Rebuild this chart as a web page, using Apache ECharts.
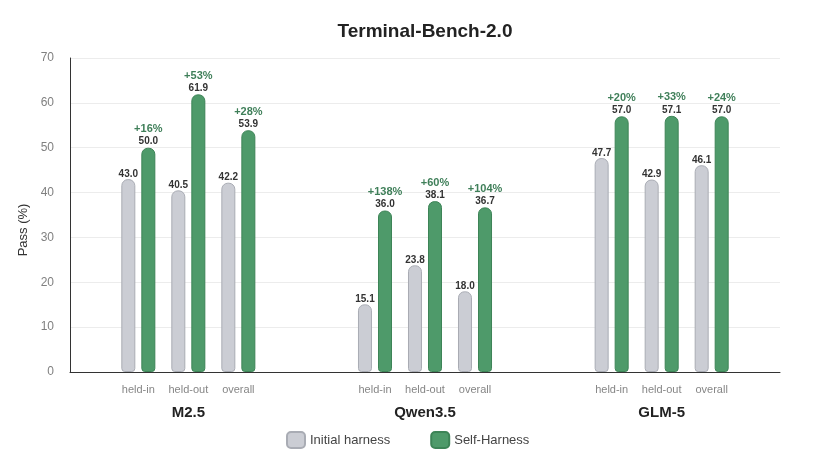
<!DOCTYPE html>
<html>
<head>
<meta charset="utf-8">
<script src="https://cdn.jsdelivr.net/npm/echarts@6/dist/echarts.min.js"></script>
<style>
html,body{margin:0;padding:0;background:#fff;}
#chart{width:816px;height:466px;}
</style>
</head>
<body>
<div id="chart"></div>
<script>
const models = ['M2.5', 'Qwen3.5', 'GLM-5'];
const splits = ['held-in', 'held-out', 'overall'];
const initialHarness = [
  [43.0, 40.5, 42.2],
  [15.1, 23.8, 18.0],
  [47.7, 42.9, 46.1]
];
const selfHarness = [
  [50.0, 61.9, 53.9],
  [36.0, 38.1, 36.7],
  [57.0, 57.1, 57.0]
];
const gains = [
  ['+16%', '+53%', '+28%'],
  ['+138%', '+60%', '+104%'],
  ['+20%', '+33%', '+24%']
];
const yTicks = { min: 0, max: 70, interval: 10 };

// layout: each model occupies one unit on the hidden x value axis; splits are offset inside it
const SUB = 0.2113;
function xPos(g, s) { return g + 0.5 + (s - 1) * SUB; }

const greyData = [], greenData = [], splitLabelData = [];
models.forEach((m, g) => {
  splits.forEach((sp, s) => {
    greyData.push([xPos(g, s), initialHarness[g][s]]);
    greenData.push({ value: [xPos(g, s), selfHarness[g][s]], gain: gains[g][s] });
    splitLabelData.push({ value: [xPos(g, s), 0], name: sp });
  });
});

const FONT = '"Liberation Sans", Arial, sans-serif';
const chart = echarts.init(document.getElementById('chart'));
chart.setOption({
  animation: false,
  textStyle: { fontFamily: FONT },
  title: {
    text: 'Terminal-Bench-2.0',
    left: 425, top: 22, textAlign: 'center', padding: 0,
    textStyle: { fontFamily: FONT, fontSize: 19, fontWeight: 'bold', color: '#222' }
  },
  legend: {
    bottom: 17, left: 286, padding: 0,
    itemWidth: 18, itemHeight: 16, itemGap: 40,
    icon: 'roundRect',
    textStyle: { fontFamily: FONT, fontSize: 13, color: '#444' },
    data: ['Initial harness', 'Self-Harness']
  },
  grid: { left: 70, right: 36, top: 58, bottom: 94 },
  xAxis: [
    { type: 'value', min: 0, max: 3, show: false },
    {
      type: 'category', data: models, position: 'bottom',
      axisLine: { show: true, lineStyle: { color: '#333', width: 1 } },
      axisTick: { show: false },
      splitLine: { show: false },
      axisLabel: { margin: 33, fontFamily: FONT, fontSize: 15, fontWeight: 'bold', color: '#222' }
    }
  ],
  yAxis: {
    type: 'value', min: yTicks.min, max: yTicks.max, interval: yTicks.interval,
    name: 'Pass (%)', nameLocation: 'middle', nameGap: 40,
    nameTextStyle: { fontFamily: FONT, fontSize: 13, color: '#333', padding: [0, 30, 0, 0] },
    axisLine: { show: true, lineStyle: { color: '#333', width: 1 } },
    axisTick: { show: false },
    axisLabel: { margin: 16, fontFamily: FONT, fontSize: 12, color: '#808080' },
    splitLine: { lineStyle: { color: '#ececec' } }
  },
  series: [
    {
      name: 'Initial harness', type: 'bar', xAxisIndex: 0,
      barWidth: 14, barGap: '43%',
      data: greyData,
      itemStyle: { color: '#cbcdd4', borderColor: '#a9acb4', borderWidth: 1, borderRadius: [6, 6, 3, 3] },
      label: {
        show: true, position: 'top', distance: 0,
        fontFamily: FONT, fontSize: 10, fontWeight: 'bold', color: '#333',
        formatter: p => p.value[1].toFixed(1)
      }
    },
    {
      name: 'Self-Harness', type: 'bar', xAxisIndex: 0,
      barWidth: 14, barGap: '43%',
      data: greenData,
      itemStyle: { color: '#4e9a6a', borderColor: '#3d8457', borderWidth: 1, borderRadius: [6, 6, 3, 3] },
      label: {
        show: true, position: 'top', distance: 0,
        formatter: p => '{g|' + p.data.gain + '}\n{v|' + p.value[1].toFixed(1) + '}',
        rich: {
          g: { fontFamily: FONT, fontSize: 11, fontWeight: 'bold', color: '#3f7f59', lineHeight: 13, align: 'center' },
          v: { fontFamily: FONT, fontSize: 10, fontWeight: 'bold', color: '#333', lineHeight: 12, align: 'center' }
        }
      }
    },
    {
      type: 'scatter', xAxisIndex: 0, silent: true, clip: false,
      symbolSize: 0, data: splitLabelData,
      label: {
        show: true, position: 'bottom', distance: 12,
        fontFamily: FONT, fontSize: 11, color: '#666',
        formatter: p => p.name
      },
      tooltip: { show: false }
    }
  ]
});
</script>
</body>
</html>
